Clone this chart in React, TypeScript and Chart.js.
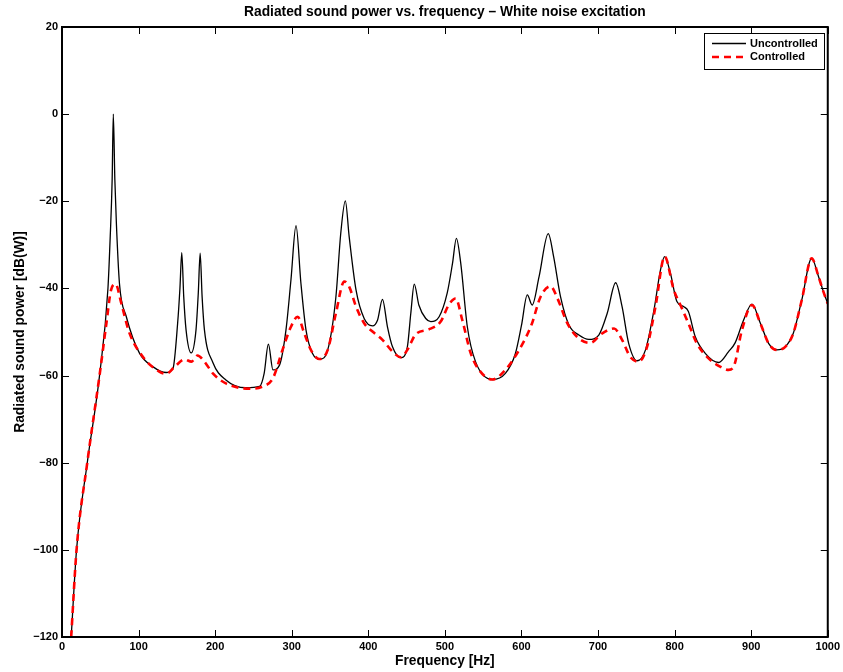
import React, { useEffect, useRef } from "react";
import { Chart, registerables } from "chart.js";

Chart.register(...registerables);

const TITLE = "Radiated sound power vs. frequency – White noise excitation";
const X_LABEL = "Frequency [Hz]";
const Y_LABEL = "Radiated sound power [dB(W)]";
const SERIES_NAMES = ["Uncontrolled", "Controlled"];
const X_MIN = 0;
const X_MAX = 1000;
const Y_MIN = -120;
const Y_MAX = 20;
const X_STEP = 100;
const Y_STEP = 20;

const uncontrolledFreq = [
  12, 19, 33, 49, 60, 63, 65.5, 67, 69, 71, 75, 84, 101, 119, 136, 145, 151, 154, 156.4, 159,
  162, 168.7, 175, 178, 180.4, 183, 186, 197, 214, 240, 258, 264, 269.5, 275.5, 284, 292.5, 299,
  305.6, 312, 318.6, 327, 337, 347, 357.7, 364, 370, 375, 384, 394.6, 405.5, 412, 418.5, 425,
  431.6, 442.5, 451, 455.5, 460, 466, 475, 481.6, 492.5, 503, 510, 515, 520.7, 529.3, 540, 562,
  579, 592, 600, 607.6, 614, 623, 635, 642, 651, 662, 675, 688, 701, 712, 723, 731.4, 740, 751,
  762, 773, 781.5, 787, 794.5, 803, 812, 818, 827, 840, 857.5, 870.5, 879, 890, 901, 912, 922.7,
  933.5, 944.5, 955, 966, 979, 988, 994.4, 1000,
];
const uncontrolledDb = [
  -120, -100, -80, -60, -40, -28, -15, 0, -15, -25, -38.8, -46.5, -54.8, -58, -59.3, -58.3, -48,
  -40, -31.8, -42, -49.5, -54.8, -49.5, -41, -31.9, -42, -49.5, -57, -61, -62.8, -62.5, -59.5,
  -52.8, -58.7, -57.6, -49.5, -38, -25.6, -38.8, -49.5, -54.9, -56.2, -54.1, -41.9, -27.4, -19.9,
  -28.1, -40.4, -46.9, -48.6, -47.3, -42.5, -48.8, -53.4, -55.9, -53.4, -45.7, -39, -43.8, -46.9,
  -47.6, -46.5, -41.1, -34.2, -28.5, -34.2, -48.8, -56.8, -60.9, -59.5, -55, -48.5, -41.5, -43.8,
  -37.3, -27.4, -32.7, -41.9, -48.4, -50.7, -51.7, -50.7, -45.7, -38.7, -44.2, -52.6, -56.6,
  -54.1, -45, -35.8, -32.7, -36.5, -43, -44.2, -45.3, -51.1, -54.9, -57, -54.5, -52.5, -47.3,
  -43.6, -48, -52.6, -54.1, -53.4, -50.3, -42.7, -33.1, -37.3, -40.8, -43.5,
];

const controlledFreq = [
  12, 19, 33, 49, 58, 64, 70, 77.4, 88, 105.6, 127, 136, 147, 160, 169, 177, 186, 197, 214, 245,
  262, 275.5, 288, 299, 307.7, 316.4, 325, 336, 347, 357.7, 368.6, 375, 384, 394.6, 405.5, 418.5,
  431.6, 442.5, 451, 462, 479, 494.6, 505, 514, 522.8, 533.8, 544.6, 562, 579, 597, 613, 625, 638,
  647, 660, 675, 690, 705.5, 721, 731.4, 742, 753, 764, 775, 787, 799, 807.6, 818, 829, 844, 860,
  870.5, 877, 888, 901, 912, 922.7, 933.5, 944.5, 955, 966, 979, 988, 994.4, 1000,
];
const controlledDb = [
  -120, -100, -80, -60, -48, -40.4, -39, -43.4, -50.2, -55.7, -59.1, -59.6, -58, -56.3, -56.8,
  -55.4, -56.8, -59.5, -61.8, -63, -62.5, -60.6, -54.1, -48.8, -46.5, -50.3, -54.1, -56.2, -54.1,
  -45.7, -38.4, -39.6, -44.2, -48, -49.9, -51.8, -54.5, -55.8, -54.1, -50.5, -49.4, -47.6, -43.8,
  -42.3, -47.3, -54.9, -58.7, -60.9, -58.7, -54.1, -48.4, -41.9, -39.5, -42.3, -48, -51.5, -52.5,
  -50.3, -49.2, -51.8, -55.7, -56.8, -53.4, -44.2, -32.7, -40.4, -43.8, -48, -52.6, -56, -58,
  -58.7, -58, -49.5, -43.8, -48, -52.6, -54.1, -53.4, -50.3, -42.7, -33.1, -37.3, -40.8, -43.5,
];

const FONT_FAMILY = "'Liberation Sans', Arial, Helvetica, sans-serif";
const LABEL_SIZE = 13.8;

const framePlugin = {
  id: "matlabFrame",
  afterDraw(chart: any) {
    const { ctx, chartArea } = chart;
    const { left, right, top, bottom } = chartArea;
    const xs = chart.scales.x;
    const ys = chart.scales.y;
    ctx.save();
    // title centred over the plot area
    ctx.fillStyle = "#000";
    ctx.font = `bold ${LABEL_SIZE}px ${FONT_FAMILY}`;
    ctx.textAlign = "center";
    ctx.textBaseline = "middle";
    ctx.fillText(TITLE, (left + right) / 2, 12);

    // inward ticks
    ctx.strokeStyle = "#000";
    ctx.lineWidth = 1;
    const tl = 7;
    ctx.beginPath();
    xs.ticks.forEach((t: any) => {
      const px = Math.round(xs.getPixelForValue(t.value)) + 0.5;
      ctx.moveTo(px, bottom);
      ctx.lineTo(px, bottom - tl);
      ctx.moveTo(px, top);
      ctx.lineTo(px, top + tl);
    });
    ys.ticks.forEach((t: any) => {
      const py = Math.round(ys.getPixelForValue(t.value)) + 0.5;
      ctx.moveTo(left, py);
      ctx.lineTo(left + tl, py);
      ctx.moveTo(right, py);
      ctx.lineTo(right - tl, py);
    });
    ctx.stroke();
    // frame
    ctx.lineWidth = 2;
    ctx.strokeRect(left, top, right - left, bottom - top);

    // legend
    const bx = 704.5, by = 33.5, bw = 120, bh = 36;
    ctx.fillStyle = "#fff";
    ctx.fillRect(bx, by, bw, bh);
    ctx.lineWidth = 1;
    ctx.strokeStyle = "#000";
    ctx.strokeRect(bx, by, bw, bh);
    const rows = [43.5, 57];
    chart.data.datasets.forEach((ds: any, i: number) => {
      const y = rows[i];
      ctx.beginPath();
      ctx.strokeStyle = ds.borderColor;
      ctx.lineWidth = ds.borderWidth;
      ctx.setLineDash(ds.borderDash || []);
      ctx.moveTo(712, y);
      ctx.lineTo(746, y);
      ctx.stroke();
      ctx.setLineDash([]);
      ctx.fillStyle = "#000";
      ctx.font = `bold 11px ${FONT_FAMILY}`;
      ctx.textAlign = "left";
      ctx.textBaseline = "middle";
      ctx.fillText(ds.label, 750, y);
    });
    ctx.restore();
  },
};

export default function App() {
  const ref = useRef<HTMLCanvasElement | null>(null);
  useEffect(() => {
    if (!ref.current) return;
    const unc = uncontrolledFreq.map((f, i) => ({ x: f, y: uncontrolledDb[i] }));
    const ctl = controlledFreq.map((f, i) => ({ x: f, y: controlledDb[i] }));
    const chart = new Chart(ref.current, {
      type: "line",
      data: {
        datasets: [
          {
            label: SERIES_NAMES[0],
            data: unc,
            borderColor: "#000000",
            borderWidth: 1.3,
            pointRadius: 0,
            cubicInterpolationMode: "monotone",
            fill: false,
            order: 2,
          },
          {
            label: SERIES_NAMES[1],
            data: ctl,
            borderColor: "#ff0000",
            borderWidth: 2.6,
            borderDash: [7, 5],
            pointRadius: 0,
            cubicInterpolationMode: "monotone",
            fill: false,
            order: 1,
          },
        ],
      },
      options: {
        responsive: false,
        animation: false,
        layout: { padding: { left: 0, right: 14, top: 27, bottom: 0 } },
        plugins: {
          legend: { display: false },
          tooltip: { enabled: false },
          title: { display: false },
        },
        scales: {
          x: {
            type: "linear",
            min: X_MIN,
            max: X_MAX,
            grid: { display: false, drawTicks: false },
            border: { display: false },
            ticks: {
              stepSize: X_STEP,
              color: "#000",
              padding: 3,
              maxRotation: 0,
              font: { family: FONT_FAMILY, size: 11, weight: "bold" },
              callback: (v: any) => String(v),
            },
            title: {
              display: true,
              text: X_LABEL,
              color: "#000",
              font: { family: FONT_FAMILY, size: LABEL_SIZE, weight: "bold" },
              padding: { top: 0, bottom: 3 },
            },
            afterFit: (s: any) => {
              s.height = 35;
            },
          },
          y: {
            type: "linear",
            min: Y_MIN,
            max: Y_MAX,
            grid: { display: false, drawTicks: false },
            border: { display: false },
            ticks: {
              stepSize: Y_STEP,
              color: "#000",
              padding: 4,
              font: { family: FONT_FAMILY, size: 11, weight: "bold" },
              callback: (v: any) => String(v).replace("-", "\u2212"),
            },
            title: {
              display: true,
              text: Y_LABEL,
              color: "#000",
              font: { family: FONT_FAMILY, size: LABEL_SIZE, weight: "bold" },
              padding: { top: 11.5, bottom: 0 },
            },
            afterFit: (s: any) => {
              s.width = 62;
            },
          },
        },
      },
      plugins: [framePlugin],
    });
    return () => chart.destroy();
  }, []);
  return (
    <div style={{ position: "fixed", left: 0, top: 0, width: 843, height: 672, background: "#fff" }}>
      <canvas ref={ref} width={843} height={672} />
    </div>
  );
}
